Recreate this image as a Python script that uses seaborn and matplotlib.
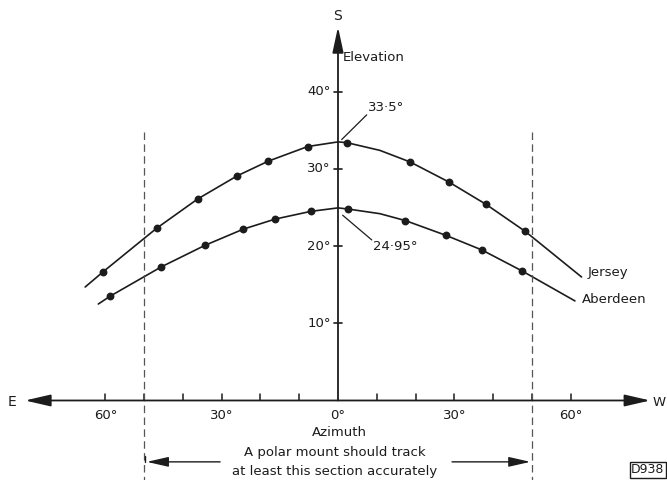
import matplotlib
matplotlib.use("Agg")
import matplotlib.pyplot as plt
import numpy as np
import pandas as pd
import seaborn as sns

# Sun path: elevation against azimuth (degrees, E negative), hourly positions
jersey_az = [-60.5, -46.8, -36.2, -26.0, -18.0, -7.8, 2.3, 18.6, 28.6, 38.2, 48.3]
jersey_el = [16.7, 22.3, 26.1, 29.1, 31.0, 32.9, 33.4, 30.9, 28.3, 25.4, 21.9]
aberdeen_az = [-58.8, -45.6, -34.3, -24.4, -16.2, -7.0, 2.6, 17.4, 27.8, 37.1, 47.4]
aberdeen_el = [13.5, 17.3, 20.1, 22.2, 23.5, 24.5, 24.8, 23.3, 21.4, 19.5, 16.8]

# Traced curve (includes the noon peak and the run-out ends beyond the plotted points)
jersey_curve_az = [-65.2, -60.5, -46.8, -36.2, -26.0, -18.0, -7.8, 0.0, 2.3, 10.8, 18.6, 28.6, 38.2, 48.3, 62.8]
jersey_curve_el = [14.7, 16.7, 22.3, 26.1, 29.1, 31.0, 32.9, 33.5, 33.4, 32.4, 30.9, 28.3, 25.4, 21.9, 16.0]
aberdeen_curve_az = [-61.8, -58.8, -45.6, -34.3, -24.4, -16.2, -7.0, 0.0, 2.6, 10.8, 17.4, 27.8, 37.1, 47.4, 61.1]
aberdeen_curve_el = [12.5, 13.5, 17.3, 20.1, 22.2, 23.5, 24.5, 24.95, 24.8, 24.2, 23.3, 21.4, 19.5, 16.8, 12.9]

peak_labels = {"Jersey": 33.5, "Aberdeen": 24.95}
elev_ticks = [10, 20, 30, 40]
azim_minor = [-60, -50, -40, -30, -20, -10, 10, 20, 30, 40, 50, 60]
azim_labels = {-60: "60°", -30: "30°", 0: "0°", 30: "30°", 60: "60°"}
track_limit = 50

sns.set_theme(style="white")
plt.rcParams["font.family"] = ["DejaVu Sans"]

INK = "#1c1c1c"
FS = 9.5

fig = plt.figure(figsize=(6.67, 4.8), dpi=100)
ax = fig.add_axes([0, 0, 1, 1])
ax.set_xlim(-87.16, 84.84)
ax.set_ylim(-10.3, 51.88)
ax.set_axis_off()

curves = pd.concat([
    pd.DataFrame({"az": jersey_curve_az, "el": jersey_curve_el, "site": "Jersey"}),
    pd.DataFrame({"az": aberdeen_curve_az, "el": aberdeen_curve_el, "site": "Aberdeen"}),
])
points = pd.concat([
    pd.DataFrame({"az": jersey_az, "el": jersey_el, "site": "Jersey"}),
    pd.DataFrame({"az": aberdeen_az, "el": aberdeen_el, "site": "Aberdeen"}),
])

sns.lineplot(data=curves, x="az", y="el", units="site", estimator=None, sort=False,
             color=INK, lw=1.2, ax=ax, legend=False)
sns.scatterplot(data=points, x="az", y="el", color=INK, s=32, edgecolor=INK,
                linewidth=0, ax=ax, legend=False, zorder=4)

# Horizontal (azimuth) axis with arrowheads at both ends
ax.annotate("", xy=(-80.7, 0), xytext=(80.5, 0),
            arrowprops=dict(arrowstyle="<|-|>,head_length=1.3,head_width=0.3",
                            color=INK, lw=1.3, shrinkA=0, shrinkB=0), zorder=3)
# Vertical (elevation) axis
ax.annotate("", xy=(0, 48.4), xytext=(0, 0),
            arrowprops=dict(arrowstyle="-|>,head_length=1.3,head_width=0.28",
                            color=INK, lw=1.3, shrinkA=0, shrinkB=0), zorder=3)

ax.text(-84.1, -0.2, "E", ha="center", va="center", fontsize=FS + 0.5, color=INK)
ax.text(82.9, -0.2, "W", ha="center", va="center", fontsize=FS, color=INK)
ax.text(-0.2, 49.8, "S", ha="center", va="center", fontsize=FS + 0.5, color=INK)
ax.text(1.3, 44.4, "Elevation", ha="left", va="center", fontsize=FS, color=INK)
ax.text(0.4, -4.2, "Azimuth", ha="center", va="center", fontsize=FS, color=INK)

for e in elev_ticks:
    ax.plot([-1.1, 1.1], [e, e], color=INK, lw=1.2)
    ax.text(-1.9, e, f"{e}°", ha="right", va="center", fontsize=FS, color=INK)

for a in azim_minor:
    ax.plot([a, a], [0, 0.85], color=INK, lw=1.1)
for a, lab in azim_labels.items():
    ax.text(a, -1.9, lab, ha="center", va="center", fontsize=FS, color=INK)

# Limits of the section the mount should follow
for a in (-track_limit, track_limit):
    ax.plot([a, a], [34.8, -10.5], color="#555555", lw=0.9, dashes=(6, 3.5))

ax.annotate("", xy=(-49.3, -7.95), xytext=(-30.4, -7.95),
            arrowprops=dict(arrowstyle="-|>,head_length=1.1,head_width=0.25",
                            color=INK, lw=1.0, shrinkA=0, shrinkB=0))
ax.annotate("", xy=(49.6, -7.95), xytext=(29.4, -7.95),
            arrowprops=dict(arrowstyle="-|>,head_length=1.1,head_width=0.25",
                            color=INK, lw=1.0, shrinkA=0, shrinkB=0))
ax.plot([-49.7, -49.7], [-7.2, -7.95], color=INK, lw=1.0)
ax.text(-0.8, -6.8, "A polar mount should track", ha="center", va="center",
        fontsize=FS, color=INK)
ax.text(-0.8, -9.15, "at least this section accurately", ha="center", va="center",
        fontsize=FS, color=INK)

# Curve names
ax.text(64.5, 16.6, "Jersey", ha="left", va="center", fontsize=FS, color=INK)
ax.text(62.8, 13.1, "Aberdeen", ha="left", va="center", fontsize=FS, color=INK)

# Noon elevation call-outs
ax.plot([0.95, 7.4], [33.8, 37.0], color=INK, lw=0.9)
ax.text(7.7, 38.0, f"{peak_labels['Jersey']}°".replace(".", "·"), ha="left",
        va="center", fontsize=FS, color=INK)
ax.plot([1.2, 8.7], [24.0, 20.8], color=INK, lw=0.9)
ax.text(9.0, 19.9, f"{peak_labels['Aberdeen']}°".replace(".", "·"), ha="left",
        va="center", fontsize=FS, color=INK)

ax.text(79.9, -9.0, "D938", ha="center", va="center", fontsize=FS - 0.5, color=INK,
        bbox=dict(boxstyle="square,pad=0.12", fc="white", ec=INK, lw=1.0))

fig.savefig("out.png", dpi=100, facecolor="white")
